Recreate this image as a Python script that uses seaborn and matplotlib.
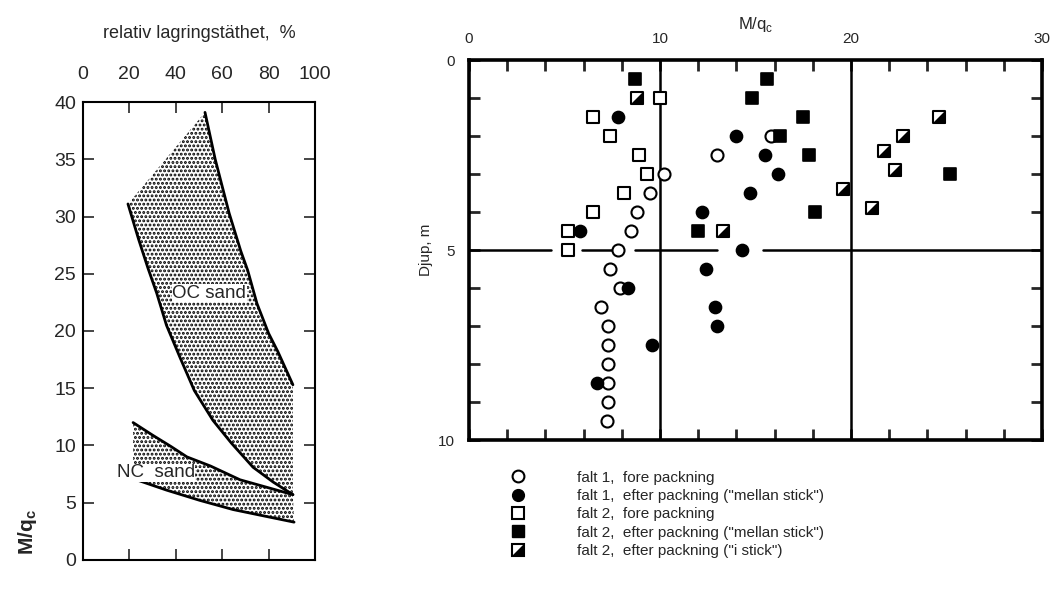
import numpy as np
import pandas as pd
import matplotlib
matplotlib.use("Agg")
import matplotlib.pyplot as plt
import seaborn as sns
from matplotlib.lines import Line2D

# -----------------------------------------------
# Vänster diagram: M/qc mot relativ lagringstäthet (%)
oc_upper_x = [52.6, 57, 63, 68, 71, 75, 80, 84, 90.5]
oc_upper_y = [39.1, 35.0, 30.3, 27.0, 25.3, 22.4, 19.8, 18.2, 15.3]
oc_lower_x = [19.4, 24, 28, 31.8, 36, 41.8, 48, 56, 64, 73.3, 82, 90.5]
oc_lower_y = [31.1, 28.0, 25.5, 23.3, 20.5, 17.7, 14.8, 12.2, 10.2, 8.1, 6.8, 5.7]
nc_upper_x = [21.6, 30, 38, 44.8, 55, 67.7, 80, 90.5]
nc_upper_y = [12.0, 10.9, 9.9, 9.0, 8.2, 7.0, 6.3, 5.7]
nc_lower_x = [21.6, 36, 50.4, 64.7, 79, 91]
nc_lower_y = [7.1, 6.1, 5.2, 4.4, 3.8, 3.3]

# -----------------------------------------------
# Höger diagram: M/qc mot djup (m)
f1_fore_x = [13.0, 10.2, 9.5, 8.8, 8.5, 7.8, 7.4, 7.9, 6.9, 7.3, 7.3, 7.3, 7.3, 7.3, 7.2, 15.8]
f1_fore_d = [2.5, 3.0, 3.5, 4.0, 4.5, 5.0, 5.5, 6.0, 6.5, 7.0, 7.5, 8.0, 8.5, 9.0, 9.5, 2.0]
f1_efter_x = [7.8, 14.0, 15.5, 16.2, 14.7, 12.2, 5.8, 14.3, 12.4, 8.3, 12.9, 13.0, 9.6, 6.7]
f1_efter_d = [1.5, 2.0, 2.5, 3.0, 3.5, 4.0, 4.5, 5.0, 5.5, 6.0, 6.5, 7.0, 7.5, 8.5]
f2_fore_x = [10.0, 6.5, 7.4, 8.9, 9.3, 8.1, 6.5, 5.2, 5.2]
f2_fore_d = [1.0, 1.5, 2.0, 2.5, 3.0, 3.5, 4.0, 4.5, 5.0]
f2_mellan_x = [8.7, 15.6, 14.8, 17.5, 16.3, 17.8, 25.2, 18.1, 12.0]
f2_mellan_d = [0.5, 0.5, 1.0, 1.5, 2.0, 2.5, 3.0, 4.0, 4.5]
f2_i_x = [8.8, 24.6, 22.7, 21.7, 22.3, 19.6, 21.1, 13.3]
f2_i_d = [1.0, 1.5, 2.0, 2.4, 2.9, 3.4, 3.9, 4.5]

ref_depth = 5
ref_depth_segments = [(0, 4.3), (5.9, 7.5), (8.7, 13.0), (15.4, 30)]
ref_mqc = [10, 20]

legend_labels = [
    "falt 1,  fore packning",
    "falt 1,  efter packning (\"mellan stick\")",
    "falt 2,  fore packning",
    "falt 2,  efter packning (\"mellan stick\")",
    "falt 2,  efter packning (\"i stick\")",
]

sns.set_style("white")
plt.rcParams['font.family'] = ['Liberation Sans', 'DejaVu Sans']
plt.rcParams['hatch.linewidth'] = 1.4

fig = plt.figure(figsize=(10.53, 5.90), dpi=100)

# -----------------------------------------------
# Vänster diagram
ax1 = fig.add_axes([0.0788, 0.051, 0.2203, 0.776])
oc = pd.DataFrame({"x": oc_upper_x, "y": oc_upper_y})
oc_l = pd.DataFrame({"x": oc_lower_x, "y": oc_lower_y})
nc = pd.DataFrame({"x": nc_upper_x, "y": nc_upper_y})
nc_l = pd.DataFrame({"x": nc_lower_x, "y": nc_lower_y})

# stipplade områden
oc_poly_x = list(oc_lower_x) + list(oc_upper_x[::-1])
oc_poly_y = list(oc_lower_y) + list(oc_upper_y[::-1])
ax1.fill(oc_poly_x, oc_poly_y, facecolor="none", edgecolor="black",
         hatch="....", linewidth=0)
nc_poly_x = list(nc_lower_x) + list(nc_upper_x[::-1])
nc_poly_y = list(nc_lower_y) + list(nc_upper_y[::-1])
ax1.fill(nc_poly_x, nc_poly_y, facecolor="none", edgecolor="black",
         hatch="....", linewidth=0)

for d in [oc, oc_l, nc, nc_l]:
    sns.lineplot(data=d, x="x", y="y", ax=ax1, color="black", linewidth=2.0,
                 sort=False, estimator=None)

ax1.text(54.5, 23.3, "OC sand", fontsize=13.5, ha="center", va="center",
         bbox=dict(facecolor="white", edgecolor="none", pad=0.5))
ax1.text(31.5, 7.6, "NC  sand", fontsize=13.5, ha="center", va="center",
         bbox=dict(facecolor="white", edgecolor="none", pad=0.3))

ax1.set_xlim(0, 100)
ax1.set_ylim(0, 40)
ax1.set_xticks([0, 20, 40, 60, 80, 100])
ax1.set_yticks(range(0, 41, 5))
ax1.xaxis.tick_top()
ax1.xaxis.set_label_position("top")
ax1.tick_params(axis="both", direction="in", length=8, width=1.2,
                labelsize=14, top=True, bottom=True, left=True, right=True,
                labelbottom=False, labeltop=True)
ax1.tick_params(axis="x", pad=14)
ax1.tick_params(axis="y", pad=5)
ax1.set_xlabel("relativ lagringstäthet,  %", fontsize=13, labelpad=20)
ax1.set_ylabel("M/q$_\\mathregular{c}$", fontsize=15, fontweight="bold")
ax1.yaxis.set_label_coords(-0.19, 0.06)
for s in ax1.spines.values():
    s.set_linewidth(1.5)
    s.set_color("black")

# -----------------------------------------------
# Höger diagram
ax2 = fig.add_axes([0.4454, 0.2542, 0.5442, 0.6441])

for xv in ref_mqc:
    ax2.axvline(xv, color="black", linewidth=1.8, zorder=1)
for a, b in ref_depth_segments:
    ax2.plot([a, b], [ref_depth, ref_depth], color="black", linewidth=1.8, zorder=1)

ms = 75
sns.scatterplot(x=f1_fore_x, y=f1_fore_d, ax=ax2, marker="o", s=ms,
                facecolor="white", edgecolor="black", linewidth=1.5, zorder=3)
sns.scatterplot(x=f1_efter_x, y=f1_efter_d, ax=ax2, marker="o", s=ms,
                color="black", edgecolor="black", linewidth=1.2, zorder=3)
sns.scatterplot(x=f2_fore_x, y=f2_fore_d, ax=ax2, marker="s", s=ms,
                facecolor="white", edgecolor="black", linewidth=1.5, zorder=3)
sns.scatterplot(x=f2_mellan_x, y=f2_mellan_d, ax=ax2, marker="s", s=ms,
                color="black", edgecolor="black", linewidth=1.2, zorder=3)
tri = [(1, 1), (1, -1), (-1, -1)]
sns.scatterplot(x=f2_i_x, y=f2_i_d, ax=ax2, marker="s", s=ms,
                facecolor="white", edgecolor="black", linewidth=1.5, zorder=3)
sns.scatterplot(x=f2_i_x, y=f2_i_d, ax=ax2, marker=tri, s=ms,
                color="black", edgecolor="black", linewidth=1.2, zorder=4)

ax2.set_xlim(0, 30)
ax2.set_ylim(10, 0)
ax2.set_xticks([0, 10, 20, 30])
ax2.set_xticks(np.arange(2, 30, 2), minor=True)
ax2.set_yticks([0, 5, 10])
ax2.set_yticks(np.arange(1, 10, 1), minor=True)
ax2.xaxis.tick_top()
ax2.xaxis.set_label_position("top")
ax2.tick_params(axis="both", which="both", direction="in", length=8, width=2,
                top=True, bottom=True, left=True, right=True,
                labelbottom=False, labeltop=True, labelsize=11)
ax2.tick_params(axis="x", pad=10)
ax2.tick_params(axis="y", pad=10)
ax2.set_xlabel("M/q$_\\mathregular{c}$", fontsize=12, labelpad=2)
ax2.set_ylabel("Djup, m", fontsize=11, labelpad=4)
for s in ax2.spines.values():
    s.set_linewidth(2.6)
    s.set_color("black")

# teckenförklaring
half_sq = (Line2D([], [], marker="s", markersize=8.5, markerfacecolor="white",
                  markeredgecolor="black", markeredgewidth=1.5, linestyle="none"),
           Line2D([], [], marker=tri, markersize=8.5, color="black",
                  markeredgewidth=1.2, linestyle="none"))
handles = [
    Line2D([], [], marker="o", markersize=8.5, markerfacecolor="white",
           markeredgecolor="black", markeredgewidth=1.5, linestyle="none"),
    Line2D([], [], marker="o", markersize=8.5, color="black", linestyle="none"),
    Line2D([], [], marker="s", markersize=8.5, markerfacecolor="white",
           markeredgecolor="black", markeredgewidth=1.5, linestyle="none"),
    Line2D([], [], marker="s", markersize=8.5, color="black", linestyle="none"),
    half_sq,
]
ax2.legend(handles, legend_labels, loc="upper left", bbox_to_anchor=(0.055, -0.065),
           frameon=False, fontsize=11, handlelength=1.5, handletextpad=3.1,
           labelspacing=0.28, borderaxespad=0)

fig.savefig("out.png", dpi=100)
plt.close(fig)
